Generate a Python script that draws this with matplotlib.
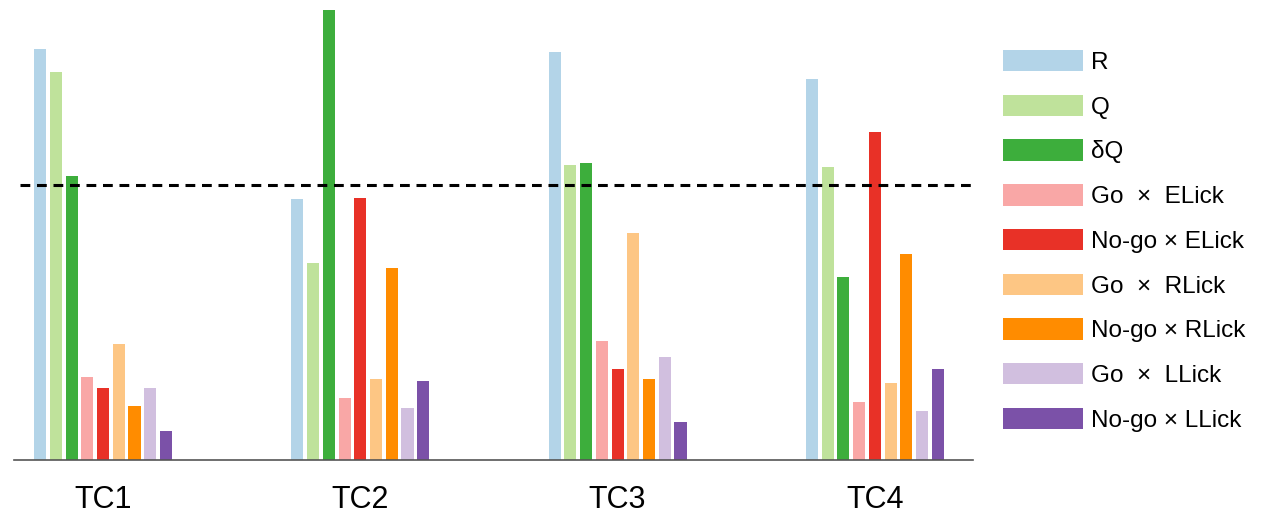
import numpy as np
import matplotlib.pyplot as plt
from matplotlib.patches import Patch

plt.rcParams['font.family'] = ['Liberation Sans', 'DejaVu Sans']

# Components (one colour each) and the four clusters
componentes = ['R', 'Q', 'δQ', 'Go  ×  ELick', 'No-go × ELick', 'Go  ×  RLick',
               'No-go × RLick', 'Go  ×  LLick', 'No-go × LLick']
cores = ['#b3d4e8', '#bfe29b', '#3dae3c', '#f9a7a6', '#e83127',
         '#fdc684', '#ff8c00', '#d1bfdf', '#7b51a8']
clusters = ['TC1', 'TC2', 'TC3', 'TC4']

# Peso de cada componente por cluster
tc1 = [4.11, 3.88, 2.84, 0.83, 0.72, 1.16, 0.54, 0.72, 0.29]
tc2 = [2.61, 1.97, 4.60, 0.62, 2.62, 0.81, 1.92, 0.52, 0.79]
tc3 = [4.08, 2.95, 2.97, 1.19, 0.91, 2.27, 0.81, 1.03, 0.38]
tc4 = [3.81, 2.93, 1.83, 0.58, 3.28, 0.77, 2.06, 0.49, 0.91]
limiar = 2.75

valores = np.array([tc1, tc2, tc3, tc4])

fig = plt.figure(figsize=(12.75, 5.14), dpi=100)
ax = fig.add_axes([0.011, 0.106, 0.752, 0.8745])

passo = 0.0612
largura = 0.047
x = np.arange(len(clusters))
for j, (nome, cor) in enumerate(zip(componentes, cores)):
    desloc = (j - (len(componentes) - 1) / 2) * passo
    ax.bar(x + desloc, valores[:, j], width=largura, color=cor, label=nome)

ax.axhline(limiar, xmin=0.006, xmax=1.0, color='black', linestyle=(0, (3.2, 2.2)), linewidth=2.2)

ax.set_xlim(-0.346, 3.381)
ax.set_ylim(0, 4.5)
ax.set_xticks(x)
ax.set_xticklabels(clusters, fontsize=22)
ax.tick_params(axis='x', length=0, pad=18)
ax.set_yticks([])
for lado in ['top', 'right', 'left']:
    ax.spines[lado].set_visible(False)
ax.spines['bottom'].set_color('#555555')
ax.spines['bottom'].set_linewidth(1.2)

handles = [Patch(facecolor=c, edgecolor='none') for c in cores]
fig.legend(handles, componentes, loc='upper left', bbox_to_anchor=(1003 / 1275, 1 - 50 / 514),
           frameon=False, fontsize=17.5, handlelength=3.3, handleheight=0.98,
           handletextpad=0.33, labelspacing=0.85, borderpad=0, borderaxespad=0)

plt.savefig('out.png', dpi=100)
